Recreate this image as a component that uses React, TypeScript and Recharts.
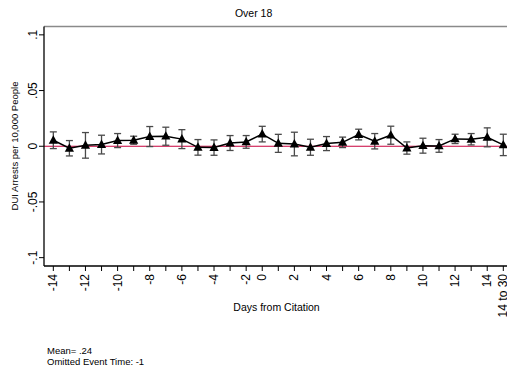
import React from 'react';
import { ComposedChart, Line, ErrorBar, XAxis, YAxis, ReferenceLine } from 'recharts';

// event time categories (index on the x axis), -1 is the omitted period
const X_LABELS = [
  '-14', '-13', '-12', '-11', '-10', '-9', '-8', '-7', '-6', '-5', '-4', '-3', '-2',
  '0', '1', '2', '3', '4', '5', '6', '7', '8', '9', '10', '11', '12', '13', '14', '14 to 30',
];
const SHOWN_LABELS = [
  '-14', '-12', '-10', '-8', '-6', '-4', '-2', '0', '2', '4', '6', '8', '10', '12', '14', '14 to 30',
];

// point estimates
const ESTIMATES = [
  0.0054, -0.0018, 0.0008, 0.0015, 0.0051, 0.0054, 0.0087, 0.009, 0.0064, -0.001, -0.0012, 0.0029, 0.0039,
  0.0109, 0.0026, 0.002, -0.0009, 0.0024, 0.0035, 0.0105, 0.0045, 0.0099, -0.0016, 0.0005, 0.0003, 0.0066,
  0.0063, 0.008, 0.0012,
];
// half width of the confidence interval
const CI_HALF = [
  0.0075, 0.0069, 0.0115, 0.0084, 0.0063, 0.0036, 0.009, 0.0081, 0.0085, 0.007, 0.0069, 0.0067, 0.0057,
  0.007, 0.0081, 0.0106, 0.0072, 0.0063, 0.0047, 0.0048, 0.0069, 0.0081, 0.0055, 0.0067, 0.0057, 0.0042,
  0.0051, 0.0085, 0.0096,
];

const Y_TICKS = [-0.1, -0.05, 0, 0.05, 0.1];
const Y_TICK_LABELS = ['-.1', '-.05', '0', '.05', '.1'];

const Y_MAX = 0.1075;

const data = X_LABELS.map((label, i) => ({
  idx: i,
  label,
  est: ESTIMATES[i],
  ci: CI_HALF[i],
}));

const FONT = '"Liberation Sans", Arial, Helvetica, sans-serif';

const XTick = (props: any) => {
  const { x, y, payload } = props;
  const label = X_LABELS[payload.value];
  if (!SHOWN_LABELS.includes(label)) return null;
  const ty = y + 1;
  return (
    <text
      x={x}
      y={ty}
      transform={`rotate(-90, ${x}, ${ty})`}
      textAnchor="end"
      dominantBaseline="central"
      fontSize={12}
      fontFamily={FONT}
      fill="#000"
    >
      {label}
    </text>
  );
};

const YTick = (props: any) => {
  const { x, y, payload } = props;
  const i = Y_TICKS.indexOf(payload.value);
  const tx = x - 6;
  return (
    <text
      x={tx}
      y={y}
      transform={`rotate(-90, ${tx}, ${y})`}
      textAnchor="middle"
      dominantBaseline="central"
      fontSize={12}
      fontFamily={FONT}
      fill="#000"
    >
      {Y_TICK_LABELS[i]}
    </text>
  );
};

const Triangle = (props: any) => {
  const { cx, cy } = props;
  if (cx == null || cy == null) return null;
  return <polygon points={`${cx},${cy - 5} ${cx - 4.6},${cy + 3.4} ${cx + 4.6},${cy + 3.4}`} fill="#000" />;
};

const abs = (x: number, y: number, extra: React.CSSProperties = {}): React.CSSProperties => ({
  position: 'absolute',
  left: x,
  top: y,
  whiteSpace: 'nowrap',
  lineHeight: 1,
  fontFamily: FONT,
  color: '#000',
  ...extra,
});

export default function App() {
  return (
    // fixed so the page never gets scrollbars eating the right/bottom edge
    <div style={{ position: 'fixed', left: 8, top: 8, width: 499, height: 363, background: '#fff', overflow: 'hidden' }}>
      <div style={abs(245.6, 5.3, { fontSize: 10.5, transform: 'translate(-50%, -50%)' })}>Over 18</div>
      <div style={abs(7, 138, { fontSize: 9.5, transform: 'translate(-50%, -50%) rotate(-90deg)' })}>
        DUI Arrests per 10,000 People
      </div>
      <div style={abs(268.5, 299, { fontSize: 10.5, transform: 'translate(-50%, -50%)' })}>Days from Citation</div>
      <div style={abs(39, 343, { fontSize: 9.5, transform: 'translateY(-50%)' })}>Mean= .24</div>
      <div style={abs(39, 353.5, { fontSize: 9.5, transform: 'translateY(-50%)' })}>Omitted Event Time: -1</div>

      <ComposedChart
        width={499}
        height={363}
        data={data}
        margin={{ top: 18.5, right: 0, bottom: 0, left: 0 }}
        style={{ position: 'absolute', left: 0, top: 0 }}
      >
        <XAxis
          dataKey="idx"
          type="number"
          domain={[-0.58, 28.23]}
          allowDataOverflow
          ticks={X_LABELS.map((_, i) => i)}
          interval={0}
          height={105}
          tickSize={5}
          tickMargin={2}
          tick={<XTick />}
          axisLine={{ stroke: '#000', strokeWidth: 1.5 }}
          tickLine={{ stroke: '#000', strokeWidth: 1 }}
        />
        <YAxis
          type="number"
          domain={[-Y_MAX, Y_MAX]}
          allowDataOverflow
          ticks={Y_TICKS}
          width={36}
          tickSize={5}
          tickMargin={0}
          tick={<YTick />}
          axisLine={{ stroke: '#000', strokeWidth: 1.3 }}
          tickLine={{ stroke: '#000', strokeWidth: 1 }}
        />
        <ReferenceLine y={Y_MAX} stroke="#8a8a8a" strokeWidth={1.5} />
        <ReferenceLine y={0} stroke="#c8003c" strokeWidth={1.2} />
        <Line
          dataKey="est"
          type="linear"
          stroke="#000"
          strokeWidth={1.5}
          dot={<Triangle />}
          activeDot={false}
          isAnimationActive={false}
        >
          <ErrorBar dataKey="ci" width={3.5} stroke="#4a4a4a" strokeWidth={1.3} direction="y" isAnimationActive={false} />
        </Line>
      </ComposedChart>
    </div>
  );
}
